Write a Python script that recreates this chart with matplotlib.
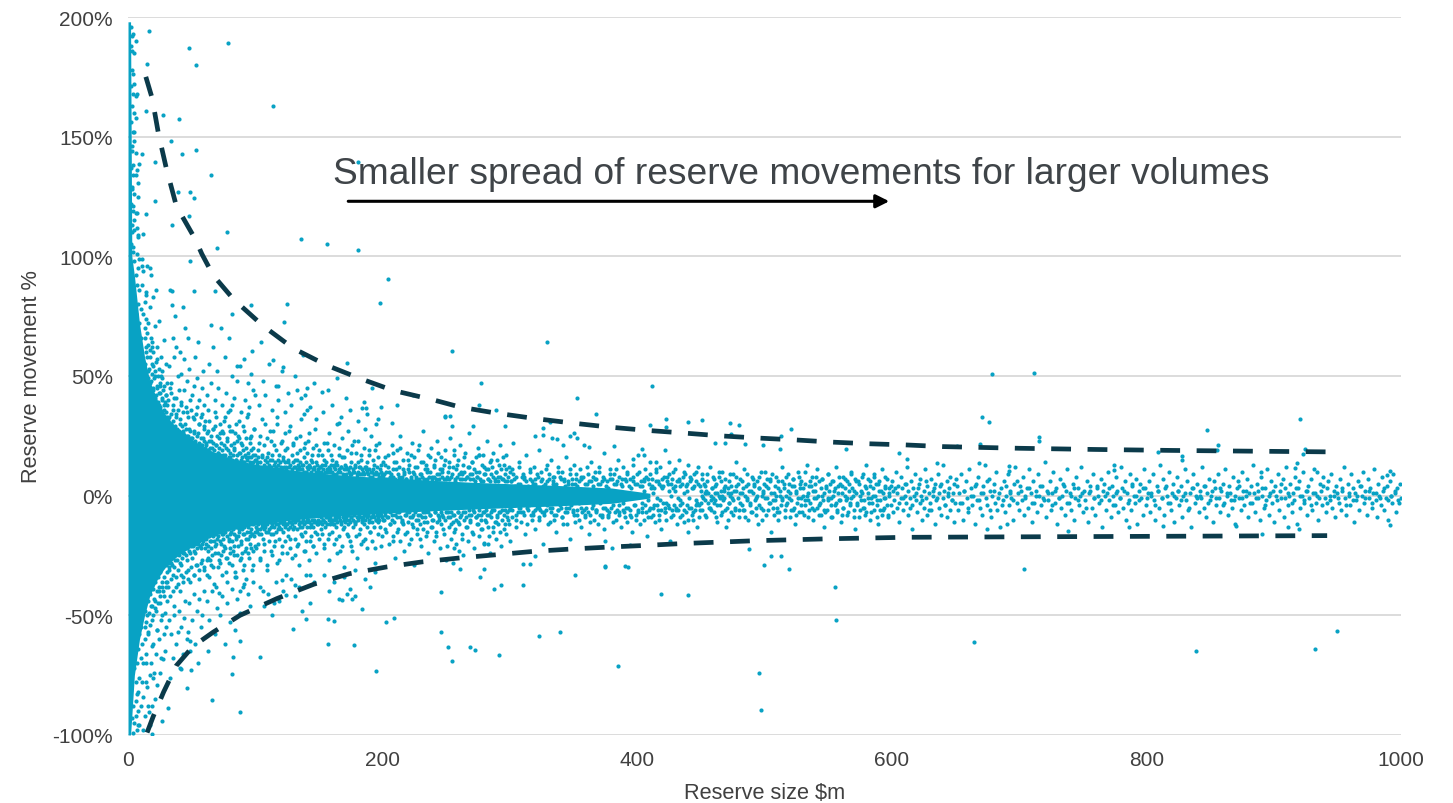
import matplotlib

matplotlib.use("Agg")
import matplotlib.pyplot as plt
import numpy as np

plt.rcParams["font.family"] = ["Liberation Sans", "DejaVu Sans"]

DOT = "#08A2C4"
CURVE = "#0B3A4A"
TEXT = "#404040"

X_TICKS = [0, 200, 400, 600, 800, 1000]
Y_TICKS = [-100, -50, 0, 50, 100, 150, 200]

# where the cloud is so dense that the dots merge into a solid shape
CORE_X = [0, 2, 3, 5, 9, 13, 17, 23, 29, 37, 45, 54, 64, 76, 88, 103, 119, 138, 159, 185, 213, 240, 270,
          300, 340, 380, 410]
CORE_HI = [198, 198, 100, 92, 72, 58, 48, 40, 34, 29, 26, 22, 19, 16.5, 14.5, 12.8, 11.3, 10.2, 9, 8, 7.2,
           6.4, 5.6, 5, 4.2, 3.2, 1]
CORE_LO = [-100, -100, -92, -75, -60, -50, -42, -35, -30, -26, -23, -20, -17.5, -15, -13.5, -12, -10.8,
           -9.7, -8.7, -7.9, -7, -6.3, -5.6, -5, -4.2, -3.2, -1]

# dots along the small-reserve column
STRIP_POINTS = [
    (2, 196), (3, 192), (4, 193), (2, 188), (5, 185), (3, 178), (4, 176), (2, 171), (6, 167), (7, 168),
    (3, 163), (2, 156), (4, 152), (5, 148), (3, 144), (6, 143), (2, 137), (4, 134), (7, 136), (3, 129),
    (5, 126), (8, 125), (2, 122), (4, 119), (6, 118), (3, 113), (5, 111), (8, 108), (2, 105), (4, 102),
    (7, 101), (9, 99), (3, 110), (4, 104), (5, 98), (6, 92), (4, 121), (7, 88), (8, 80), (6, 76),
    (9, 72), (10, 66), (7, 112), (8, 95), (5, 115), (10, 78), (9, 86), (6, 134), (3, 146), (4, 168),
    (5, 152), (3, 186), (6, 190), (5, 172), (7, 118), (8, 109), (3, 128), (4, 138), (6, 158), (5, 160),
    (4, -88), (5, -95), (6, -78), (7, -70), (8, -64), (9, -58), (10, -55), (5, -72), (6, -92), (8, -82),
    (7, -98), (9, -76), (10, -68), (4, -99), (6, -86), (3, -93), (8, -90), (9, -96), (7, -83), (10, -88),
]

# dots fringing the solid core for reserves below 300
FRINGE_POINTS = [
    (11, 88), (12, 76), (13, 70), (14, 62), (15, 58), (16, 52), (18, 48), (19, 55), (20, 45), (22, 42),
    (24, 38), (25, 47), (26, 35), (27, 40), (28, 36), (29, 33), (12, 94), (14, 84), (16, 72), (18, 66),
    (20, 60), (22, 56), (24, 53), (26, 50), (28, 46), (30, 42), (13, 81), (15, 68), (17, 61), (19, 64),
    (21, 50), (23, 46), (25, 43), (27, 49), (29, 39), (11, 99), (17, 79), (21, 71), (23, 62), (26, 58),
    (30, 55), (20, 83), (24, 73), (28, 65), (18, 92), (15, 96), (11, 96), (17, 95), (14, 85), (22, 86),
    (11, -62), (12, -70), (13, -55), (14, -66), (15, -50), (16, -58), (17, -75), (18, -46), (19, -52), (20, -62),
    (21, -44), (22, -48), (23, -56), (24, -40), (25, -45), (26, -52), (27, -38), (28, -42), (29, -49), (30, -36),
    (12, -84), (14, -78), (16, -88), (18, -70), (20, -76), (22, -66), (24, -60), (26, -68), (28, -58), (30, -55),
    (13, -92), (17, -96), (21, -85), (25, -74), (29, -65), (15, -80), (11, -78), (19, -88), (23, -79), (12, -98),
    (31, 38), (32, 33), (33, 45), (34, 30), (35, 36), (36, 41), (37, 29), (38, 34), (39, 50), (40, 27),
    (41, 32), (42, 38), (43, 26), (44, 44), (45, 30), (46, 35), (47, 25), (48, 28), (49, 40), (50, 24),
    (51, 33), (52, 27), (53, 22), (54, 37), (55, 26), (56, 30), (57, 21), (58, 34), (59, 24), (60, 28),
    (32, 54), (34, 47), (36, 58), (38, 62), (40, 44), (42, 51), (44, 57), (46, 48), (48, 53), (50, 42),
    (52, 46), (54, 49), (56, 40), (58, 45), (60, 38), (35, 66), (41, 60), (47, 66), (53, 58), (59, 52),
    (37, 75), (45, 70), (55, 64), (33, 86), (43, 79),
    (31, -36), (32, -30), (33, -42), (34, -28), (35, -33), (36, -46), (37, -27), (38, -38), (39, -31), (40, -25),
    (41, -40), (42, -29), (43, -34), (44, -24), (45, -44), (46, -27), (47, -31), (48, -23), (49, -36), (50, -26),
    (51, -21), (52, -33), (53, -24), (54, -29), (55, -20), (56, -35), (57, -22), (58, -27), (59, -19), (60, -31),
    (32, -52), (34, -58), (36, -50), (38, -62), (40, -48), (42, -55), (44, -51), (46, -60), (48, -45), (50, -52),
    (52, -41), (54, -48), (56, -43), (58, -50), (60, -40), (35, -68), (39, -57), (43, -66), (47, -57), (53, -62),
    (57, -55), (33, -76), (41, -72), (49, -65), (55, -70),
    (61, 22), (62, 26), (63, 19), (64, 31), (65, 23), (66, 20), (67, 28), (68, 35), (69, 21), (70, 25),
    (71, 18), (72, 30), (73, 22), (74, 27), (75, 17), (76, 33), (77, 20), (78, 24), (79, 29), (80, 16),
    (81, 21), (82, 38), (83, 19), (84, 26), (85, 15), (86, 23), (87, 31), (88, 18), (89, 22), (90, 14),
    (91, 27), (92, 17), (93, 20), (94, 34), (95, 16), (96, 24), (97, 19), (98, 14), (99, 28), (100, 17),
    (62, 42), (65, 47), (68, 40), (71, 45), (74, 38), (77, 43), (80, 36), (83, 41), (86, 48), (89, 35),
    (92, 40), (95, 37), (98, 44), (64, 55), (70, 52), (76, 58), (82, 50), (88, 54), (94, 47), (100, 42),
    (67, 62), (79, 66), (91, 57), (73, 70), (97, 51),
    (61, -20), (62, -27), (63, -23), (64, -34), (65, -19), (66, -25), (67, -30), (68, -21), (69, -38), (70, -18),
    (71, -24), (72, -28), (73, -20), (74, -33), (75, -16), (76, -22), (77, -26), (78, -36), (79, -19), (80, -24),
    (81, -15), (82, -29), (83, -21), (84, -32), (85, -17), (86, -25), (87, -14), (88, -27), (89, -20), (90, -31),
    (91, -16), (92, -23), (93, -35), (94, -18), (95, -26), (96, -15), (97, -22), (98, -29), (99, -17), (100, -21),
    (62, -44), (66, -40), (70, -47), (74, -42), (78, -45), (82, -39), (86, -43), (90, -38), (94, -41), (98, -36),
    (64, -52), (72, -50), (80, -53), (88, -49), (96, -46), (68, -58), (84, -56), (76, -62),
    (101, 14), (102, 19), (103, 12), (104, 25), (105, 16), (106, 11), (107, 21), (108, 30), (109, 14), (110, 18),
    (111, 12), (112, 23), (113, 15), (114, 27), (115, 11), (116, 19), (117, 33), (118, 13), (119, 17), (120, 22),
    (121, 11), (122, 15), (123, 26), (124, 12), (125, 20), (126, 14), (127, 29), (128, 10), (129, 17), (130, 21),
    (131, 12), (132, 24), (133, 15), (134, 11), (135, 19), (136, 32), (137, 13), (138, 16), (139, 22), (140, 10),
    (141, 18), (142, 26), (143, 12), (144, 15), (145, 20), (146, 11), (147, 28), (148, 14), (149, 17), (150, 10),
    (103, 38), (108, 42), (113, 36), (118, 40), (123, 35), (128, 38), (133, 44), (138, 34), (143, 37), (148, 32),
    (106, 48), (116, 46), (126, 43), (136, 41), (146, 47), (111, 55), (131, 50), (121, 52), (141, 45),
    (101, -14), (102, -20), (103, -16), (104, -27), (105, -13), (106, -18), (107, -23), (108, -12), (109, -31), (110, -15),
    (111, -19), (112, -13), (113, -25), (114, -16), (115, -21), (116, -12), (117, -28), (118, -14), (119, -18), (120, -11),
    (121, -24), (122, -15), (123, -19), (124, -33), (125, -12), (126, -17), (127, -22), (128, -11), (129, -26), (130, -14),
    (131, -18), (132, -10), (133, -21), (134, -29), (135, -13), (136, -16), (137, -11), (138, -23), (139, -15), (140, -19),
    (141, -10), (142, -27), (143, -13), (144, -17), (145, -21), (146, -11), (147, -15), (148, -24), (149, -12), (150, -18),
    (104, -38), (110, -41), (116, -36), (122, -40), (128, -35), (134, -38), (140, -33), (146, -36), (107, -46), (119, -44),
    (131, -42), (143, -45), (113, -50), (137, -48),
    (151, 12), (152, 17), (153, 9), (154, 22), (155, 13), (156, 10), (157, 19), (158, 26), (159, 11), (160, 15),
    (161, 9), (162, 21), (163, 14), (164, 30), (165, 10), (166, 17), (167, 12), (168, 24), (169, 8), (170, 16),
    (171, 11), (172, 19), (173, 27), (174, 9), (175, 14), (176, 21), (177, 10), (178, 13), (179, 18), (180, 8),
    (181, 23), (182, 12), (183, 15), (184, 9), (185, 20), (186, 28), (187, 11), (188, 14), (189, 17), (190, 8),
    (191, 25), (192, 10), (193, 13), (194, 19), (195, 9), (196, 16), (197, 22), (198, 11), (199, 8), (200, 14),
    (153, 35), (160, 38), (167, 33), (174, 36), (181, 31), (188, 34), (195, 30), (157, 44), (171, 41), (185, 39),
    (199, 37), (164, 49), (192, 45),
    (151, -11), (152, -16), (153, -10), (154, -22), (155, -13), (156, -9), (157, -18), (158, -27), (159, -12), (160, -15),
    (161, -10), (162, -20), (163, -13), (164, -24), (165, -9), (166, -17), (167, -11), (168, -21), (169, -14), (170, -30),
    (171, -10), (172, -16), (173, -12), (174, -19), (175, -9), (176, -23), (177, -13), (178, -11), (179, -17), (180, -26),
    (181, -9), (182, -14), (183, -20), (184, -10), (185, -12), (186, -18), (187, -8), (188, -22), (189, -11), (190, -15),
    (191, -9), (192, -19), (193, -13), (194, -28), (195, -10), (196, -16), (197, -8), (198, -13), (199, -21), (200, -10),
    (154, -33), (162, -36), (170, -34), (178, -31), (186, -35), (194, -32), (158, -40), (174, -39), (190, -38), (166, -43),
    (201, 9), (202, 13), (203, 7), (204, 17), (205, 10), (206, 8), (207, 21), (208, 11), (209, 14), (210, 7),
    (211, 19), (212, 9), (213, 12), (214, 25), (215, 8), (216, 15), (217, 10), (218, 7), (219, 18), (220, 11),
    (221, 13), (222, 8), (223, 22), (224, 10), (225, 16), (226, 7), (227, 12), (228, 19), (229, 9), (230, 14),
    (231, 8), (232, 27), (233, 11), (234, 13), (235, 7), (236, 17), (237, 10), (238, 20), (239, 8), (240, 12),
    (241, 15), (242, 7), (243, 23), (244, 9), (245, 11), (246, 16), (247, 8), (248, 13), (249, 19), (250, 7),
    (251, 10), (252, 14), (253, 24), (254, 8), (255, 12), (256, 17), (257, 6), (258, 11), (259, 15), (260, 9),
    (261, 21), (262, 7), (263, 13), (264, 10), (265, 18), (266, 8), (267, 12), (268, 26), (269, 9), (270, 14),
    (271, 7), (272, 11), (273, 16), (274, 8), (275, 20), (276, 10), (277, 6), (278, 13), (279, 17), (280, 9),
    (281, 11), (282, 23), (283, 7), (284, 14), (285, 9), (286, 12), (287, 18), (288, 6), (289, 10), (290, 15),
    (291, 8), (292, 21), (293, 11), (294, 7), (295, 13), (296, 9), (297, 17), (298, 6), (299, 12), (300, 10),
    (201, -10), (202, -7), (203, -15), (204, -9), (205, -20), (206, -12), (207, -8), (208, -17), (209, -11), (210, -26),
    (211, -9), (212, -14), (213, -7), (214, -19), (215, -10), (216, -12), (217, -23), (218, -8), (219, -15), (220, -11),
    (221, -7), (222, -18), (223, -9), (224, -13), (225, -29), (226, -10), (227, -16), (228, -8), (229, -12), (230, -21),
    (231, -9), (232, -14), (233, -7), (234, -17), (235, -11), (236, -24), (237, -8), (238, -13), (239, -10), (240, -19),
    (241, -7), (242, -15), (243, -11), (244, -9), (245, -22), (246, -12), (247, -8), (248, -16), (249, -10), (250, -27),
    (251, -7), (252, -13), (253, -9), (254, -18), (255, -11), (256, -8), (257, -14), (258, -20), (259, -7), (260, -12),
    (261, -9), (262, -16), (263, -25), (264, -10), (265, -7), (266, -13), (267, -19), (268, -8), (269, -11), (270, -15),
    (271, -6), (272, -22), (273, -9), (274, -12), (275, -8), (276, -17), (277, -10), (278, -14), (279, -7), (280, -20),
    (281, -11), (282, -8), (283, -13), (284, -24), (285, -9), (286, -6), (287, -15), (288, -11), (289, -18), (290, -8),
    (291, -12), (292, -7), (293, -21), (294, -10), (295, -14), (296, -6), (297, -16), (298, -9), (299, -12), (300, -19),
]

# second layer of dots hugging the edge of the solid core
EDGE_POINTS = [
    (13.5, 55), (14.5, 60), (15.5, 49), (16.5, 53), (17.5, 47), (18.5, 51), (19.5, 44), (20.5, 49), (21.5, 41),
    (22.5, 45), (23.5, 39), (24.5, 43), (25.5, 37), (26.5, 41), (27.5, 34), (28.5, 38), (29.5, 35), (30.5, 33),
    (13.5, 66), (15.5, 63), (17.5, 58), (19.5, 54), (21.5, 52), (23.5, 50), (25.5, 46), (27.5, 44), (29.5, 42),
    (14.5, 74), (18.5, 62), (22.5, 57), (26.5, 52), (30.5, 47),
    (13.5, -48), (14.5, -53), (15.5, -44), (16.5, -49), (17.5, -41), (18.5, -46), (19.5, -39), (20.5, -43),
    (21.5, -36), (22.5, -40), (23.5, -34), (24.5, -38), (25.5, -32), (26.5, -36), (27.5, -30), (28.5, -34),
    (29.5, -29), (30.5, -32), (13.5, -60), (15.5, -57), (17.5, -54), (19.5, -50), (21.5, -47), (23.5, -45),
    (25.5, -42), (27.5, -40), (29.5, -38), (14.5, -70), (18.5, -63), (22.5, -56), (26.5, -50), (30.5, -44),
    (31.5, 32), (32.5, 29), (33.5, 34), (34.5, 28), (35.5, 31), (36.5, 27), (37.5, 33), (38.5, 28), (39.5, 26),
    (40.5, 30), (41.5, 25), (42.5, 29), (43.5, 27), (44.5, 24), (45.5, 28), (46.5, 25), (47.5, 23), (48.5, 27),
    (49.5, 24), (50.5, 22), (51.5, 26), (52.5, 23), (53.5, 21), (54.5, 25), (55.5, 22), (56.5, 20), (57.5, 24),
    (58.5, 21), (59.5, 23), (60.5, 20),
    (31.5, 40), (33.5, 43), (35.5, 38), (37.5, 41), (39.5, 36), (41.5, 39), (43.5, 35), (45.5, 37), (47.5, 33),
    (49.5, 36), (51.5, 32), (53.5, 34), (55.5, 30), (57.5, 33), (59.5, 29),
    (31.5, -28), (32.5, -31), (33.5, -26), (34.5, -29), (35.5, -25), (36.5, -30), (37.5, -24), (38.5, -27),
    (39.5, -23), (40.5, -28), (41.5, -22), (42.5, -26), (43.5, -24), (44.5, -21), (45.5, -25), (46.5, -22),
    (47.5, -20), (48.5, -24), (49.5, -21), (50.5, -19), (51.5, -23), (52.5, -20), (53.5, -18), (54.5, -22),
    (55.5, -19), (56.5, -21), (57.5, -18), (58.5, -20), (59.5, -17), (60.5, -22),
    (31.5, -38), (33.5, -35), (35.5, -40), (37.5, -34), (39.5, -37), (41.5, -33), (43.5, -36), (45.5, -32),
    (47.5, -35), (49.5, -30), (51.5, -33), (53.5, -29), (55.5, -31), (57.5, -28), (59.5, -30),
    (61.5, 21), (62.5, 19), (63.5, 23), (64.5, 20), (65.5, 18), (66.5, 22), (67.5, 19), (68.5, 17), (69.5, 21),
    (70.5, 18), (71.5, 20), (72.5, 17), (73.5, 19), (74.5, 16), (75.5, 21), (76.5, 17), (77.5, 15), (78.5, 19),
    (79.5, 16), (80.5, 18), (81.5, 15), (82.5, 17), (83.5, 20), (84.5, 15), (85.5, 17), (86.5, 14), (87.5, 18),
    (88.5, 15), (89.5, 16), (90.5, 19), (91.5, 14), (92.5, 16), (93.5, 15), (94.5, 18), (95.5, 14), (96.5, 16),
    (97.5, 13), (98.5, 17), (99.5, 15),
    (62.5, 27), (65.5, 25), (68.5, 29), (71.5, 24), (74.5, 26), (77.5, 23), (80.5, 27), (83.5, 22), (86.5, 25),
    (89.5, 21), (92.5, 24), (95.5, 22), (98.5, 20),
    (61.5, -18), (62.5, -21), (63.5, -17), (64.5, -19), (65.5, -22), (66.5, -17), (67.5, -19), (68.5, -16),
    (69.5, -20), (70.5, -17), (71.5, -15), (72.5, -19), (73.5, -16), (74.5, -18), (75.5, -21), (76.5, -15),
    (77.5, -17), (78.5, -14), (79.5, -18), (80.5, -16), (81.5, -19), (82.5, -14), (83.5, -16), (84.5, -18),
    (85.5, -13), (86.5, -17), (87.5, -15), (88.5, -19), (89.5, -14), (90.5, -16), (91.5, -13), (92.5, -18),
    (93.5, -15), (94.5, -13), (95.5, -17), (96.5, -14), (97.5, -16), (98.5, -12), (99.5, -15),
    (62.5, -26), (65.5, -29), (68.5, -24), (71.5, -27), (74.5, -23), (77.5, -26), (80.5, -22), (83.5, -25),
    (86.5, -21), (89.5, -24), (92.5, -22), (95.5, -20), (98.5, -23),
    (100.5, 15), (101.5, 13), (102.5, 16), (103.5, 14), (104.5, 12), (105.5, 17), (106.5, 13), (107.5, 15),
    (108.5, 12), (109.5, 16), (110.5, 13), (111.5, 15), (112.5, 12), (113.5, 17), (114.5, 13), (115.5, 14),
    (116.5, 12), (117.5, 15), (118.5, 11), (119.5, 14), (120.5, 12), (121.5, 16), (122.5, 12), (123.5, 14),
    (124.5, 11), (125.5, 15), (126.5, 12), (127.5, 13), (128.5, 11), (129.5, 14), (130.5, 12), (131.5, 15),
    (132.5, 11), (133.5, 13), (134.5, 12), (135.5, 14), (136.5, 11), (137.5, 13), (138.5, 10), (139.5, 14),
    (140.5, 12), (141.5, 11), (142.5, 13), (143.5, 10), (144.5, 14), (145.5, 11), (146.5, 12), (147.5, 10),
    (148.5, 13), (149.5, 11), (150.5, 12), (151.5, 10), (152.5, 13), (153.5, 11), (154.5, 10), (155.5, 14),
    (156.5, 11), (157.5, 12), (158.5, 10), (159.5, 13), (160.5, 10), (161.5, 12), (162.5, 11), (163.5, 9),
    (164.5, 13), (165.5, 11), (166.5, 10), (167.5, 12), (168.5, 9), (169.5, 11), (170.5, 13), (171.5, 9),
    (172.5, 11), (173.5, 10), (174.5, 12), (175.5, 9), (176.5, 11), (177.5, 10), (178.5, 12), (179.5, 9),
    (180.5, 10), (181.5, 12), (182.5, 9), (183.5, 11), (184.5, 10), (185.5, 9), (186.5, 12), (187.5, 10),
    (188.5, 9), (189.5, 11), (190.5, 10), (191.5, 8), (192.5, 11), (193.5, 9), (194.5, 10), (195.5, 12),
    (196.5, 9), (197.5, 8), (198.5, 10), (199.5, 9),
    (100.5, -13), (101.5, -15), (102.5, -12), (103.5, -14), (104.5, -16), (105.5, -12), (106.5, -14),
    (107.5, -13), (108.5, -15), (109.5, -12), (110.5, -14), (111.5, -11), (112.5, -16), (113.5, -12),
    (114.5, -13), (115.5, -11), (116.5, -15), (117.5, -12), (118.5, -13), (119.5, -11), (120.5, -14),
    (121.5, -12), (122.5, -11), (123.5, -13), (124.5, -12), (125.5, -14), (126.5, -11), (127.5, -13),
    (128.5, -12), (129.5, -10), (130.5, -13), (131.5, -11), (132.5, -14), (133.5, -10), (134.5, -12),
    (135.5, -11), (136.5, -13), (137.5, -10), (138.5, -12), (139.5, -11), (140.5, -13), (141.5, -10),
    (142.5, -11), (143.5, -12), (144.5, -10), (145.5, -13), (146.5, -10), (147.5, -11), (148.5, -12),
    (149.5, -10), (150.5, -11), (151.5, -9), (152.5, -12), (153.5, -10), (154.5, -11), (155.5, -9),
    (156.5, -12), (157.5, -10), (158.5, -9), (159.5, -11), (160.5, -10), (161.5, -12), (162.5, -9),
    (163.5, -10), (164.5, -11), (165.5, -9), (166.5, -10), (167.5, -12), (168.5, -9), (169.5, -10),
    (170.5, -11), (171.5, -9), (172.5, -8), (173.5, -10), (174.5, -11), (175.5, -9), (176.5, -10),
    (177.5, -8), (178.5, -11), (179.5, -9), (180.5, -10), (181.5, -8), (182.5, -9), (183.5, -11),
    (184.5, -9), (185.5, -8), (186.5, -10), (187.5, -9), (188.5, -8), (189.5, -10), (190.5, -9),
    (191.5, -11), (192.5, -8), (193.5, -9), (194.5, -10), (195.5, -8), (196.5, -9), (197.5, -10),
    (198.5, -8), (199.5, -9),
    (200.5, 8), (201.5, -8), (202.5, 10), (203.5, -9), (204.5, 7), (205.5, -7), (206.5, 9), (207.5, -10),
    (208.5, 8), (209.5, -8), (210.5, 11), (211.5, -7), (212.5, 8), (213.5, -9), (214.5, 7), (215.5, -11),
    (216.5, 9), (217.5, -8), (218.5, 7), (219.5, -7), (220.5, 10), (221.5, -9), (222.5, 7), (223.5, -8),
    (224.5, 9), (225.5, -7), (226.5, 8), (227.5, -10), (228.5, 7), (229.5, -8), (230.5, 9), (231.5, -7),
    (232.5, 7), (233.5, -9), (234.5, 10), (235.5, -7), (236.5, 8), (237.5, -8), (238.5, 7), (239.5, -10),
    (240.5, 8), (241.5, -7), (242.5, 9), (243.5, -8), (244.5, 7), (245.5, -7), (246.5, 10), (247.5, -9),
    (248.5, 7), (249.5, -7), (250.5, 8), (251.5, -9), (252.5, 7), (253.5, -7), (254.5, 9), (255.5, -8),
    (256.5, 7), (257.5, -10), (258.5, 8), (259.5, -7), (260.5, 7), (261.5, -8), (262.5, 9), (263.5, -7),
    (264.5, 7), (265.5, -9), (266.5, 8), (267.5, -6), (268.5, 7), (269.5, -8), (270.5, 9), (271.5, -7),
    (272.5, 6), (273.5, -9), (274.5, 8), (275.5, -6), (276.5, 7), (277.5, -8), (278.5, 6), (279.5, -7),
    (280.5, 9), (281.5, -6), (282.5, 7), (283.5, -8), (284.5, 6), (285.5, -7), (286.5, 8), (287.5, -6),
    (288.5, 7), (289.5, -9), (290.5, 6), (291.5, -7), (292.5, 8), (293.5, -6), (294.5, 7), (295.5, -8),
    (296.5, 6), (297.5, -7), (298.5, 8), (299.5, -6),
    (300.5, 6), (301.5, -6), (303.5, 7), (304.5, -8), (306.5, 5), (307.5, -5), (309.5, 8), (310.5, -7),
    (312.5, 6), (313.5, -5), (315.5, 7), (316.5, -8), (318.5, 5), (319.5, -6), (321.5, 9), (322.5, -5),
    (324.5, 6), (325.5, -7), (327.5, 5), (328.5, -6), (330.5, 7), (331.5, -5), (333.5, 6), (334.5, -8),
    (336.5, 5), (337.5, -6), (339.5, 8), (340.5, -5), (342.5, 6), (343.5, -7), (345.5, 5), (346.5, -5),
    (348.5, 7), (349.5, -6), (351.5, 5), (352.5, -8), (354.5, 6), (355.5, -5), (357.5, 8), (358.5, -6),
    (360.5, 5), (361.5, -7), (363.5, 6), (364.5, -5), (366.5, 7), (367.5, -6), (369.5, 5), (370.5, -8),
    (372.5, 6), (373.5, -5), (375.5, 4), (376.5, -6), (378.5, 7), (379.5, -5), (381.5, 5), (382.5, -7),
    (384.5, 6), (385.5, -4), (387.5, 5), (388.5, -6), (390.5, 7), (391.5, -5), (393.5, 4), (394.5, -6),
    (396.5, 6), (397.5, -4), (399.5, 5), (400.5, -7), (402.5, 4), (403.5, -5), (405.5, 6), (406.5, -4),
    (408.5, 7), (409.5, -6), (411.5, 4), (412.5, -5), (414.5, 6), (415.5, -4), (417.5, 5), (418.5, -6),
    (420.5, 4), (421.5, -5), (423.5, 6), (424.5, -4), (426.5, 5), (427.5, -6), (429.5, 4), (430.5, -5),
    (432.5, 6), (433.5, -4), (435.5, 5), (436.5, -6), (438.5, 4), (439.5, -4), (441.5, 6), (442.5, -5),
    (444.5, 4), (445.5, -6), (447.5, 5), (448.5, -4),
    (450.5, -3), (452.5, 5), (453.5, -2), (455.5, 1), (456.5, -5), (458.5, 3), (459.5, -1), (461.5, 4),
    (462.5, -4), (464.5, 0), (465.5, 6), (467.5, -2), (468.5, 3), (470.5, -5), (471.5, 1), (473.5, 4),
    (474.5, -1), (476.5, -6), (477.5, 2), (479.5, 5), (480.5, -3), (482.5, 1), (483.5, -6), (485.5, 4),
    (486.5, -1), (488.5, -4), (489.5, 2), (491.5, 5), (492.5, -2), (494.5, 0), (495.5, 3), (497.5, -5),
    (498.5, 1), (500.5, -1), (501.5, 4), (503.5, -3), (504.5, 6), (506.5, -2), (507.5, 1), (509.5, -5),
    (510.5, 3), (512.5, 0), (513.5, -2), (515.5, 5), (516.5, -4), (518.5, 2), (519.5, -1), (521.5, 4),
    (522.5, -6), (524.5, 1), (525.5, -3), (527.5, 5), (528.5, -1), (530.5, 3), (531.5, -4), (533.5, 0),
    (534.5, -2), (536.5, 4), (537.5, -5), (539.5, 2), (540.5, -1), (542.5, 6), (543.5, -3), (545.5, 0),
    (546.5, -6), (548.5, 3), (549.5, -2), (551.5, 5), (552.5, -1), (554.5, 2), (555.5, -4), (557.5, 4),
    (558.5, -2), (560.5, 1), (561.5, -5), (563.5, 3), (564.5, -1), (566.5, 5), (567.5, -3), (569.5, 0),
    (570.5, 2), (572.5, -4), (573.5, 6), (575.5, -2), (576.5, 1), (578.5, -5), (579.5, 3), (581.5, -1),
    (582.5, 4), (584.5, -3), (585.5, 0), (587.5, 5), (588.5, -2), (590.5, -6), (591.5, 2), (593.5, -1),
    (594.5, 3), (596.5, -4), (597.5, 1), (599.5, 4),
    (602.5, 3), (605.5, -3), (608.5, -1), (611.5, 5), (614.5, -5), (617.5, 0), (620.5, 3), (623.5, -2),
    (626.5, 6), (629.5, -6), (632.5, 2), (635.5, -1), (638.5, 5), (641.5, -4), (644.5, 1), (647.5, -2),
    (650.5, 7), (653.5, -3), (656.5, 2), (659.5, -5), (662.5, 0), (665.5, 4), (668.5, -2), (671.5, 1),
    (674.5, 6), (677.5, -6), (680.5, 2), (683.5, -1), (686.5, -4), (689.5, 4), (692.5, 1), (695.5, -2),
    (698.5, 6),
]

# third layer: the looser spread between the edge dots and the envelopes
MID_POINTS = [
    (60.7, 31), (63.2, 36), (66.4, 28), (69.1, 33), (72.6, 26), (75.3, 31), (78.8, 35), (81.4, 27), (84.9, 30),
    (87.2, 24), (90.6, 29), (93.3, 33), (96.7, 25), (99.2, 28), (102.6, 22), (105.1, 32), (108.8, 24),
    (111.3, 27), (114.7, 21), (117.4, 30), (120.9, 23), (123.2, 19), (126.6, 27), (129.3, 22), (132.8, 18),
    (135.1, 25), (138.6, 20), (141.3, 23), (144.8, 17), (147.4, 21),
    (61.8, -33), (64.7, -27), (67.2, -37), (70.6, -30), (73.1, -25), (76.7, -32), (79.3, -28), (82.8, -23),
    (85.2, -34), (88.7, -26), (91.1, -29), (94.6, -24), (97.3, -31), (100.8, -22), (103.4, -26), (106.9, -20),
    (109.2, -29), (112.7, -23), (115.3, -19), (118.8, -27), (121.2, -21), (124.7, -24), (127.3, -18),
    (130.8, -25), (133.4, -20), (136.9, -17), (139.3, -23), (142.8, -19), (145.2, -21), (148.7, -16),
    (150.4, 19), (153.8, 15), (156.3, 22), (159.7, 17), (162.2, 13), (165.6, 20), (168.1, 16), (171.5, 12),
    (174.9, 18), (177.4, 23), (180.8, 14), (183.3, 17), (186.7, 12), (189.2, 19), (192.6, 15), (195.1, 21),
    (198.5, 13), (201.9, 16), (204.4, 12), (207.8, 18), (210.3, 14), (213.7, 20), (216.2, 11), (219.6, 15),
    (222.1, 17), (225.5, 12), (228.9, 21), (231.4, 14), (234.8, 11), (237.3, 16), (240.7, 13), (243.2, 18),
    (246.6, 11), (249.1, 15), (252.5, 12), (255.9, 19), (258.4, 13), (261.8, 10), (264.3, 16), (267.7, 12),
    (270.2, 14), (273.6, 10), (276.1, 17), (279.5, 12), (282.9, 11), (285.4, 15), (288.8, 10), (291.3, 13),
    (294.7, 16), (297.2, 11),
    (151.6, -14), (154.1, -20), (157.5, -16), (160.9, -12), (163.4, -18), (166.8, -23), (169.3, -13),
    (172.7, -17), (175.2, -21), (178.6, -12), (181.1, -16), (184.5, -19), (187.9, -13), (190.4, -15),
    (193.8, -22), (196.3, -11), (199.7, -17), (202.2, -14), (205.6, -12), (208.1, -19), (211.5, -15),
    (214.9, -11), (217.4, -16), (220.8, -20), (223.3, -12), (226.7, -14), (229.2, -18), (232.6, -11),
    (235.1, -15), (238.5, -13), (241.9, -17), (244.4, -10), (247.8, -14), (250.3, -21), (253.7, -12),
    (256.2, -15), (259.6, -11), (262.1, -18), (265.5, -13), (268.9, -10), (271.4, -16), (274.8, -12),
    (277.3, -14), (280.7, -10), (283.2, -17), (286.6, -13), (289.1, -11), (292.5, -15), (295.9, -12),
    (298.4, -10),
    (302.3, 9), (306.8, 12), (311.2, 8), (315.7, 11), (320.1, 7), (324.6, 10), (329.2, 13), (333.7, 8),
    (338.1, 10), (342.6, 7), (347.2, 11), (351.7, 9), (356.1, 7), (360.6, 12), (365.2, 8), (369.7, 10),
    (374.1, 7), (378.6, 9), (383.2, 11), (387.7, 7), (392.1, 9), (396.6, 8), (401.2, 10), (405.7, 7),
    (410.1, 9), (414.6, 11), (419.2, 7), (423.7, 8), (428.1, 10), (432.6, 7), (437.2, 9), (441.7, 8),
    (446.1, 10), (450.6, 7), (455.2, 9), (459.7, 8), (464.1, 10), (468.6, 7), (473.2, 9), (477.7, 8),
    (482.1, 6), (486.6, 9), (491.2, 7), (495.7, 8), (500.1, 10), (504.6, 7), (509.2, 8), (513.7, 6),
    (518.1, 9), (522.6, 7), (527.2, 8), (531.7, 10), (536.1, 6), (540.6, 8), (545.2, 7), (549.7, 9),
    (554.1, 6), (558.6, 8), (563.2, 7), (567.7, 9), (572.1, 6), (576.6, 8), (581.2, 7), (585.7, 9),
    (590.1, 6), (594.6, 8),
    (304.5, -10), (309.1, -7), (313.6, -12), (318.2, -8), (322.7, -10), (327.1, -7), (331.6, -11), (336.2, -8),
    (340.7, -9), (345.1, -12), (349.6, -7), (354.2, -10), (358.7, -8), (363.1, -11), (367.6, -7), (372.2, -9),
    (376.7, -8), (381.1, -11), (385.6, -7), (390.2, -9), (394.7, -8), (399.1, -10), (403.6, -7), (408.2, -9),
    (412.7, -8), (417.1, -10), (421.6, -7), (426.2, -9), (430.7, -6), (435.1, -8), (439.6, -10), (444.2, -7),
    (448.7, -9), (453.1, -8), (457.6, -6), (462.2, -9), (466.7, -7), (471.1, -10), (475.6, -8), (480.2, -6),
    (484.7, -9), (489.1, -7), (493.6, -8), (498.2, -10), (502.7, -6), (507.1, -8), (511.6, -7), (516.2, -9),
    (520.7, -6), (525.1, -8), (529.6, -7), (534.2, -9), (538.7, -6), (543.1, -8), (547.6, -7), (552.2, -9),
    (556.7, -6), (561.1, -8), (565.6, -7), (570.2, -9), (574.7, -6), (579.1, -8), (583.6, -7), (588.2, -9),
    (592.7, -6), (597.1, -8),
    (405.3, 2), (408.8, -2), (412.4, 1), (415.9, -1), (419.3, 3), (422.8, -3), (426.4, 0), (429.9, 2),
    (433.3, -2), (436.8, 1), (440.4, -1), (443.9, 3), (447.3, -3), (450.8, 0), (454.4, 2), (457.9, -2),
    (461.3, 1), (464.8, -1), (468.4, 2), (471.9, -3), (411, 3), (418, -2), (425, 2), (432, -1), (439, 2),
    (446, -2), (453, 1), (460, -3), (467, 0), (474, 1),
    (701.5, 2), (704.5, -1), (707.5, 3), (710.5, -3), (713.5, 0), (716.5, 4), (719.5, -2), (722.5, 1),
    (725.5, -4), (728.5, 2), (731.5, -1), (734.5, 5), (737.5, -3), (740.5, 0), (743.5, 3), (746.5, -2),
    (749.5, 1), (752.5, -5), (755.5, 2), (758.5, -1), (761.5, 4), (764.5, -2), (767.5, 0), (770.5, 3),
    (773.5, -4), (776.5, 1), (779.5, -1), (782.5, 2), (785.5, -3), (788.5, 5), (791.5, 0), (794.5, -2),
    (797.5, 3), (800.5, -1), (803.5, 1), (806.5, -4), (809.5, 2), (812.5, -1), (815.5, 4), (818.5, -3),
    (821.5, 0), (824.5, 2), (827.5, -2), (830.5, 1), (833.5, -5), (836.5, 3), (839.5, -1), (842.5, 0),
    (845.5, 4), (848.5, -3), (851.5, 2), (854.5, -1), (857.5, 3), (860.5, -4), (863.5, 1), (866.5, -2),
    (869.5, 0), (872.5, 4), (875.5, -1), (878.5, 2), (881.5, -3), (884.5, 1), (887.5, -1), (890.5, 3),
    (893.5, -4), (896.5, 0), (899.5, 2), (902.5, -2), (905.5, 5), (908.5, -1), (911.5, 1), (914.5, -3),
    (917.5, 3), (920.5, 0), (923.5, -2), (926.5, 2), (929.5, -4), (932.5, 1), (935.5, -1), (938.5, 4),
    (941.5, -3), (944.5, 0), (947.5, 2), (950.5, -1), (953.5, 3), (956.5, -4), (959.5, 1), (962.5, -2),
    (965.5, 0), (968.5, 4), (971.5, -1), (974.5, 2), (977.5, -3), (980.5, 1), (983.5, -1), (986.5, 3),
    (989.5, -2), (992.5, 0), (995.5, 2), (998.5, -3),
]

# the main band for reserves of 300 and above
BAND_POINTS = [
    (301, 6), (302, 11), (304, 4), (305, 8), (307, 14), (308, 5), (310, 9), (311, 7), (313, 17), (314, 4),
    (316, 10), (317, 6), (319, 12), (320, 5), (322, 8), (323, 19), (325, 7), (326, 4), (328, 11), (329, 6),
    (331, 9), (332, 15), (334, 5), (335, 8), (337, 3), (338, 12), (340, 7), (341, 10), (343, 4), (344, 16),
    (346, 6), (347, 9), (349, 5), (350, 13), (352, 7), (353, 4), (355, 11), (356, 8), (358, 21), (359, 5),
    (361, 9), (362, 6), (364, 14), (365, 4), (367, 10), (368, 7), (370, 12), (371, 5), (373, 8), (374, 18),
    (376, 6), (377, 3), (379, 11), (380, 7), (382, 9), (383, 5), (385, 15), (386, 8), (388, 4), (389, 12),
    (391, 6), (392, 10), (394, 7), (395, 3), (397, 13), (398, 5), (400, 9), (401, 17), (403, 6), (404, 4),
    (406, 11), (407, 8), (409, 5), (410, 14), (412, 7), (413, 3), (415, 10), (416, 6), (418, 12), (419, 4),
    (421, 8), (422, 19), (424, 5), (425, 9), (427, 7), (428, 3), (430, 11), (431, 6), (433, 15), (434, 4),
    (436, 8), (437, 10), (439, 5), (440, 13), (442, 7), (443, 3), (445, 9), (446, 6), (448, 12), (449, 4),
    (300, -5), (302, -9), (303, -4), (305, -13), (306, -7), (308, -5), (309, -11), (311, -8), (312, -16), (314, -6),
    (315, -4), (317, -10), (318, -7), (320, -14), (321, -5), (323, -9), (324, -6), (326, -20), (327, -8), (329, -4),
    (330, -12), (332, -7), (333, -5), (335, -10), (336, -15), (338, -6), (339, -4), (341, -9), (342, -12), (344, -5),
    (345, -7), (347, -18), (348, -4), (350, -8), (351, -11), (353, -6), (354, -3), (356, -13), (357, -7), (359, -9),
    (360, -5), (362, -16), (363, -8), (365, -4), (366, -10), (368, -6), (369, -12), (371, -3), (372, -8), (374, -14),
    (375, -5), (377, -9), (378, -7), (380, -22), (381, -4), (383, -10), (384, -6), (386, -8), (387, -13), (389, -3),
    (390, -7), (392, -11), (393, -5), (395, -9), (396, -15), (398, -4), (399, -8), (401, -6), (402, -12), (404, -3),
    (405, -10), (407, -7), (408, -17), (410, -5), (411, -9), (413, -4), (414, -11), (416, -6), (417, -8), (419, -14),
    (420, -3), (422, -7), (423, -10), (425, -5), (426, -19), (428, -8), (429, -4), (431, -12), (432, -6), (434, -9),
    (435, -3), (437, -11), (438, -7), (440, -15), (441, -5), (443, -8), (444, -10), (446, -4), (447, -13), (449, -6),
    (450, 2), (451, -6), (451, 9), (452, -1), (453, 4), (454, -9), (454, 1), (455, 6), (456, -3), (457, 12),
    (457, -5), (458, 0), (459, 3), (460, -7), (460, 7), (461, -2), (462, 5), (463, -11), (463, 1), (464, 8),
    (465, -4), (466, 2), (466, -8), (467, 10), (468, -1), (469, 4), (469, -6), (470, -13), (471, 3), (472, -3),
    (472, 6), (473, 0), (474, -7), (475, 9), (475, -2), (476, 2), (477, -5), (478, 14), (478, 4), (479, -1),
    (480, -9), (481, 1), (481, 7), (482, -4), (483, 3), (484, -6), (484, 11), (485, 0), (486, -2), (487, 5),
    (487, -10), (488, 2), (489, -3), (490, 8), (490, -7), (491, 1), (492, 4), (493, -5), (493, -1), (494, 6),
    (495, -12), (496, 3), (496, -4), (497, 10), (498, 0), (499, -6), (499, 2), (500, 5), (501, -8), (502, -1),
    (502, 7), (503, 3), (504, -3), (505, -15), (505, 1), (506, 9), (507, -5), (508, 4), (508, -2), (509, 0),
    (510, -7), (511, 6), (511, -10), (512, 2), (513, -4), (514, 12), (514, -1), (515, 3), (516, -6), (517, 8),
    (517, 0), (518, -3), (519, 5), (520, -9), (520, 1), (521, -2), (522, 7), (523, -5), (523, 4), (524, -12),
    (525, 2), (526, -1), (526, 10), (527, -7), (528, 3), (529, -4), (529, 6), (530, 0), (531, -8), (532, 5),
    (532, -2), (533, 13), (534, 1), (535, -6), (535, 4), (536, -3), (537, 8), (538, -10), (538, 2), (539, -1),
    (540, 5), (541, -5), (541, 11), (542, 0), (543, -4), (544, 3), (544, -8), (545, 7), (546, -2), (547, 1),
    (547, -13), (548, 4), (549, -6), (550, 9), (550, -1), (551, 2), (552, -4), (553, 6), (553, -9), (554, 0),
    (555, 3), (556, -3), (556, 12), (557, -7), (558, 1), (559, 5), (559, -2), (560, -11), (561, 4), (562, -5),
    (562, 8), (563, 0), (564, -2), (565, 6), (565, -8), (566, 2), (567, -4), (568, 10), (568, -1), (569, 3),
    (570, -6), (571, 7), (571, -14), (572, 1), (573, -3), (574, 5), (574, -9), (575, 0), (576, 2), (577, -5),
    (577, 9), (578, -2), (579, 4), (580, -7), (580, 13), (581, 1), (582, -3), (583, 6), (583, -10), (584, -1),
    (585, 3), (586, -6), (586, 8), (587, 0), (588, -4), (589, 5), (589, -12), (590, 2), (591, -2), (592, 11),
    (592, -8), (593, 1), (594, -5), (595, 4), (595, -1), (596, 7), (597, -9), (598, 0), (598, 3), (599, -4),
    (600, 6), (601, -7), (601, 2), (602, -2), (603, 10), (604, -5), (604, 1), (605, 4), (606, -11), (607, -1),
    (607, 8), (608, 3), (609, -6), (610, 0), (610, 5), (611, -3), (612, 12), (613, -8), (613, 2), (614, -1),
    (615, 6), (616, -4), (616, -14), (617, 3), (618, 9), (619, -2), (619, 1), (620, -7), (621, 5), (622, -3),
    (622, 7), (623, 0), (624, -10), (625, 2), (625, -5), (626, 11), (627, -1), (628, 4), (628, -8), (629, 1),
    (630, -3), (631, 7), (631, -6), (632, 0), (633, 3), (634, -12), (634, 5), (635, -2), (636, 9), (637, -5),
    (637, 1), (638, 4), (639, -8), (640, -1), (640, 13), (641, 2), (642, -4), (643, 6), (643, -9), (644, 0),
    (645, 3), (646, -6), (646, 8), (647, -2), (648, 1), (649, -11), (649, 5), (650, -3),
    (651, 4), (652, -6), (653, 1), (654, 9), (655, -3), (656, -10), (657, 2), (658, 6), (659, -1), (660, -7),
    (661, 11), (662, 3), (663, -4), (664, 0), (665, -12), (666, 5), (667, -2), (668, 8), (669, -5), (670, 1),
    (671, -8), (672, 4), (673, 13), (674, -1), (675, -4), (676, 7), (677, 2), (678, -9), (679, 0), (680, 5),
    (681, -3), (682, 10), (683, -6), (684, 1), (685, -13), (686, 3), (687, -2), (688, 6), (689, -7), (690, 0),
    (691, 9), (692, -4), (693, 2), (694, -1), (695, -10), (696, 5), (697, 12), (698, -3), (699, 1), (700, -6),
    (701, 4), (702, -2), (703, 8), (704, -8), (705, 0), (706, 3), (707, -5), (708, 11), (709, 1), (710, -11),
    (711, 6), (712, -3), (713, 2), (714, -7), (715, 9), (716, 0), (717, -4), (718, 4), (719, -1), (720, 14),
    (721, -9), (722, 2), (723, -2), (724, 6), (725, -6), (726, 1), (727, 10), (728, -3), (729, 3), (730, -12),
    (731, -1), (732, 7), (733, -5), (734, 0), (735, 4), (736, -8), (737, 2), (738, 11), (739, -3), (740, 1),
    (741, -6), (742, 5), (743, -10), (744, -1), (745, 8), (746, 3), (747, -4), (748, 0), (749, 12), (750, -7),
    (751, 2), (752, -2), (753, 6), (754, -11), (755, 1), (756, 4), (757, -5), (758, 9), (759, -1), (760, -8),
    (761, 3), (762, 0), (763, -3), (764, 7), (765, -13), (766, 2), (767, 5), (768, -6), (769, 1), (770, 10),
    (771, -2), (772, -9), (773, 4), (774, 0), (775, -4), (776, 8), (777, 2), (778, -7), (779, -1), (780, 12),
    (781, 3), (782, -5), (783, 6), (784, -10), (785, 1), (786, -2), (787, 9), (788, -6), (789, 4), (790, 0),
    (791, -3), (792, 7), (793, -12), (794, 2), (795, 5), (796, -1), (797, -8), (798, 11), (799, 3), (800, -4),
    (801, 1), (802, 6), (803, -7), (804, 0), (805, 9), (806, -2), (807, -10), (808, 4), (809, 2), (810, -5),
    (811, 13), (812, -1), (813, 7), (814, -8), (815, 3), (816, 0), (817, -3), (818, 10), (819, -6), (820, 1),
    (821, 5), (822, -11), (823, -1), (824, 8), (825, 2), (826, -4), (827, 4), (828, -9), (829, 0), (830, 11),
    (831, -2), (832, 6), (833, -6), (834, 1), (835, -13), (836, 3), (837, 9), (838, -3), (839, 0), (840, 5),
    (841, -7), (842, 2), (843, -1), (844, 12), (845, -5), (846, 4), (847, -9), (848, 1), (849, 7), (850, -2),
    (851, 0), (852, -11), (853, 6), (854, 3), (855, -4), (856, 9), (857, -1), (858, -7), (859, 2), (860, 5),
    (861, -3), (862, 11), (863, 0), (864, -8), (865, 4), (866, 1), (867, -5), (868, 8), (869, -2), (870, -12),
    (871, 3), (872, 6), (873, -1), (874, -6), (875, 10), (876, 2), (877, -4), (878, 0), (879, 7), (880, -9),
    (881, 1), (882, 4), (883, -3), (884, 13), (885, -7), (886, -1), (887, 5), (888, 2), (889, -10), (890, 8),
    (891, 0), (892, -5), (893, 3), (894, -2), (895, 11), (896, -8), (897, 1), (898, 6), (899, -3), (900, -11),
    (901, 4), (902, 0), (903, 9), (904, -6), (905, 2), (906, -1), (907, 7), (908, -9), (909, 3), (910, 12),
    (911, -4), (912, 0), (913, 5), (914, -7), (915, 1), (916, -2), (917, 8), (918, -12), (919, 3), (920, 6),
    (921, -5), (922, 0), (923, 10), (924, -3), (925, 2), (926, -8), (927, 4), (928, -1), (929, 7), (930, -6),
    (931, 1), (932, 11), (933, -3), (934, 0), (935, -10), (936, 5), (937, 2), (938, -4), (939, 8), (940, -1),
    (941, -7), (942, 3), (943, 6), (944, -2), (945, 9), (946, -5), (947, 0), (948, -9), (949, 4), (950, 1),
    (951, -3), (952, 7), (953, -6), (954, 2), (955, 12), (956, -1), (957, -8), (958, 5), (959, 0), (960, -4),
    (961, 9), (962, 3), (963, -11), (964, 1), (965, -2), (966, 6), (967, -6), (968, 4), (969, 0), (970, 10),
    (971, -3), (972, 2), (973, -8), (974, 7), (975, -1), (976, 3), (977, -5), (978, 1), (979, 11), (980, -2),
    (981, -9), (982, 5), (983, 0), (984, -4), (985, 8), (986, 2), (987, -6), (988, -1), (989, 4), (990, -10),
    (991, 6), (992, 0), (993, -3), (994, 9), (995, 1), (996, -7), (997, 3), (998, -2), (999, 5), (1000, -1),
]

# isolated movements well away from the band
OUTLIER_POINTS = [
    (16.5, 194), (48, 187), (78.6, 189), (14.7, 180.5), (53.4, 180), (113.6, 163), (13.9, 160.6), (27.7, 159),
    (40, 157.5), (33.5, 148), (10.7, 142.8), (42.6, 142.8), (53.4, 144.6), (21.2, 139.3), (8.4, 138.5),
    (65.4, 134), (181, 139.6), (8.1, 130.7), (39.5, 127), (49, 127), (51.8, 124.4), (21.2, 123.3),
    (13.9, 117.6), (47.6, 117), (34.3, 113), (78, 110), (11.5, 109.2), (135.8, 107.4), (156.4, 105.3),
    (70, 103.5), (181, 102.7), (48.7, 98), (204.4, 90.4), (197.8, 80.5), (52, 85.4), (68.3, 85.4),
    (34.8, 85.4), (34.3, 79.8), (82, 76), (96.5, 79.5), (125, 80), (122.4, 72.7), (65.4, 71.3),
    (104.4, 64), (97.3, 60.5), (137.6, 58.6), (114, 56.8), (121.4, 53.8), (171.7, 55.6), (85.8, 54),
    (138.7, 41.9), (152, 43.3), (140.7, 35.6), (184, 36.6), (187, 36.6), (211, 37.7), (224, 41.9),
    (196, 32), (166, 30.5), (207, 30.5), (249, 32.9), (118, 45.8),
    (254.6, 60.5), (329, 64.4), (277.6, 46.9), (411.8, 45.7), (353, 40.8), (276, 37.7), (249, 33.1),
    (253, 33.1), (254.6, 29), (289, 35.6), (368, 34), (271, 29), (296.5, 29), (422.5, 32.2), (423, 28.7),
    (440.3, 30.8), (451, 31.8), (410, 29.4), (473, 30.5), (480, 29.5), (521, 27.7), (512.6, 25),
    (474, 25.6), (460.8, 22), (469, 22), (498.7, 21), (484.6, 21.7), (564, 19.3), (606, 17.7),
    (611.7, 15.5), (512, 19.3), (331.5, 30.8), (326, 28.4), (326, 25.5), (319.5, 24.8), (333, 24),
    (337, 23.5), (347, 25), (350, 26), (353, 24), (342, 21), (362, 20.3), (382, 20.7), (397, 15.5),
    (404, 19.5), (405, 17), (415, 14), (425, 14), (302.7, 22), (275.8, 16.8),
    (679, 50.9), (711.7, 51.4), (670.7, 32.8), (676.2, 30.9), (848, 27.3), (920.6, 32.2), (716, 23),
    (669, 21.5), (651, 20.6), (668.3, 13.5), (635.2, 13.5), (855.6, 19.2), (923, 17.5), (828, 14.8),
    (774.3, 10.9), (692, 10.2), (989, 8.5), (917, 11.7), (934, 10), (890, 9.9), (716, 24.7),
    (856.6, 21.2), (924.7, 19.4), (809, 18.4), (828, 16.7), (918.7, 13.6), (991.4, 10.5), (774.6, 12.9),
    (692, 12.5),
    (88, -90.4), (66, -85.4), (81.4, -74.4), (104, -67.6), (194.7, -73.3), (82.7, -67.6), (46, -80.2),
    (31.6, -88.6), (27, -94.1), (18.6, -99.5), (8.1, -95.7), (16.7, -90.4), (49.7, -72.7), (42, -72.3),
    (20.4, -74), (27.2, -68.4), (63, -64.9), (48.7, -60.9), (88, -60.7), (130, -55.9), (139.7, -51.4),
    (157.2, -61.8), (177.6, -62.3), (157.2, -51.7), (162, -52.4), (203, -52.8), (209, -51), (245.7, -57),
    (251.4, -63.2), (184, -47.5), (168, -43.5), (172, -41), (176, -43), (178, -42), (246, -40.3),
    (115, -45), (124.5, -41.7), (121, -35.4), (131, -37.2), (143, -33), (106, -40), (84, -34), (88, -40),
    (91, -37), (71.7, -40.7),
    (254.6, -69.2), (268.4, -63.2), (272.6, -64.6), (291.4, -66.7), (322.6, -58.8), (339, -57.1),
    (384.8, -71), (419, -41), (439.6, -41.5), (495.3, -74.1), (497.6, -89.7), (555.7, -38), (556.5, -52),
    (276.8, -34.1), (280, -30.5), (287.6, -38.9), (293, -37.2), (310.3, -37.2), (310, -28.4), (316, -28.4),
    (351.4, -33.3), (375, -29.7), (392.6, -29.7), (499.5, -28.8), (505, -25.4), (512.6, -25.4),
    (519.6, -30.5), (488, -22.3), (255, -28.3), (260.6, -30.5), (256, -22), (260, -23), (280, -19.6),
    (283, -20.2), (320, -25.2), (394, -20.5), (375, -19),
    (703.6, -30.7), (664.8, -61.3), (839, -64.9), (932.7, -64), (949.5, -56.5), (675, -14), (738.7, -14.6),
    (786.5, -13.2), (870.7, -12.5), (911, -13.3), (919.6, -13.8), (991.4, -12.3), (891, -16), (813, -12.7),
    (690.6, -11.9), (375, -29.4), (390.6, -29.4),
]

# envelope curves drawn through the cloud
UPPER_X = [14, 19, 24, 30, 38, 53, 58, 67, 83, 106, 130, 156, 182, 208, 240, 261, 289, 320, 348, 377,
           407, 436, 465, 494, 524, 552, 581, 611, 640, 700, 760, 820, 880, 942]
UPPER_Y = [175, 166, 151, 137, 121, 107, 101, 92, 82, 71, 61.5, 54.5, 49, 44, 40, 37, 34.5, 32.2, 30.4, 28.7,
           27.3, 26.2, 25, 24.1, 23.3, 22.4, 21.7, 21.2, 20.5, 19.8, 19.3, 18.9, 18.6, 18.3]
LOWER_X = [15, 20, 28, 38, 51, 67, 88, 117, 146, 174, 203, 232, 261, 289, 318, 348, 377, 406, 436, 465,
           494, 524, 552, 582, 611, 700, 800, 942]
LOWER_Y = [-99, -92, -82, -71, -63, -57, -50, -43, -37, -32.6, -29.8, -27.6, -26, -24.7, -23.3, -22.3,
           -21.5, -20.8, -20, -19.4, -18.8, -18.4, -18, -17.7, -17.4, -17.2, -17, -16.7]

NOTE = "Smaller spread of reserve movements for larger volumes"
NOTE_POS = (161, 130.5)
ARROW_FROM = (173, 123)
ARROW_TO = (598, 123)


def main() -> None:
    fig = plt.figure(figsize=(14.53, 8.04), dpi=100)
    fig.patch.set_facecolor("white")
    ax = fig.add_axes([0.0881, 0.0846, 0.8761, 0.8930])

    ax.fill_between(CORE_X, CORE_LO, CORE_HI, color=DOT, linewidth=0, zorder=2)

    layers = (STRIP_POINTS, FRINGE_POINTS, EDGE_POINTS, MID_POINTS, BAND_POINTS, OUTLIER_POINTS)
    for points in layers:
        xs, ys = np.array(points, dtype=float).T
        ax.scatter(xs, ys, s=9, color=DOT, linewidths=0, zorder=3)

    dash = (0, (4.2, 3.5))
    ax.plot(UPPER_X, UPPER_Y, color=CURVE, lw=3.4, linestyle=dash,
            dash_capstyle="butt", zorder=4)
    ax.plot(LOWER_X, LOWER_Y, color=CURVE, lw=3.4, linestyle=dash,
            dash_capstyle="butt", zorder=4)

    ax.text(NOTE_POS[0], NOTE_POS[1], NOTE, fontsize=26.7, color="#3F4448",
            ha="left", va="baseline", zorder=5)
    ax.annotate("", xy=ARROW_TO, xytext=ARROW_FROM,
                arrowprops=dict(arrowstyle="-|>", color="black", lw=2.2,
                                mutation_scale=20, shrinkA=0, shrinkB=0),
                zorder=5)

    ax.set_xlim(0, 1000)
    ax.set_ylim(-100, 200)
    ax.set_xticks(X_TICKS)
    ax.set_xticklabels([str(t) for t in X_TICKS])
    ax.set_yticks(Y_TICKS)
    ax.set_yticklabels([f"{t}%" for t in Y_TICKS])
    ax.tick_params(length=0, labelsize=15, labelcolor=TEXT)
    ax.tick_params(axis="x", pad=11)
    ax.tick_params(axis="y", pad=11)

    ax.set_xlabel("Reserve size \\$m", fontsize=15.7, color=TEXT, labelpad=9)
    ax.set_ylabel("Reserve movement %", fontsize=15.7, color=TEXT, labelpad=7)

    ax.grid(axis="y", color="#D9D9D9", linewidth=1.3)
    ax.grid(axis="x", visible=False)
    ax.set_axisbelow(True)
    for spine in ax.spines.values():
        spine.set_visible(False)

    fig.savefig("out.png", dpi=100)
    plt.close(fig)


if __name__ == "__main__":
    main()
